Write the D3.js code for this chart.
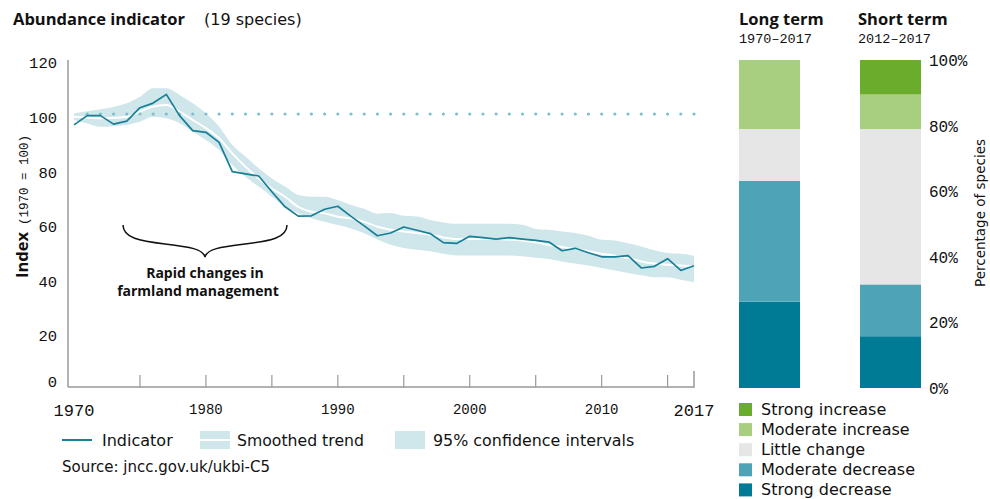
<!DOCTYPE html>
<html><head><meta charset="utf-8">
<script src="https://cdn.jsdelivr.net/npm/d3@7"></script>
<style>
body{margin:0;background:#fff;}
svg{display:block;}
text{font-family:"Open Sans",sans-serif;fill:#111;}
.mono{font-family:"Liberation Mono",monospace;}
.reg{font-family:"DejaVu Sans",sans-serif;}
</style></head><body>
<svg id="c" width="990" height="499"></svg>
<script>
const years = [1970,1971,1972,1973,1974,1975,1976,1977,1978,1979,1980,1981,1982,1983,1984,1985,1986,1987,1988,1989,1990,1991,1992,1993,1994,1995,1996,1997,1998,1999,2000,2001,2002,2003,2004,2005,2006,2007,2008,2009,2010,2011,2012,2013,2014,2015,2016,2017];
const indicator = [96.0,99.4,99.4,96.3,97.4,102.3,104.0,107.2,99.4,93.9,93.3,89.6,78.9,78.1,77.3,71.5,66.0,62.6,62.7,65.1,66.2,62.5,59.0,55.4,56.4,58.6,57.4,56.2,52.9,52.6,55.2,54.7,54.2,54.7,54.2,53.7,53.1,49.9,50.8,49.2,47.7,47.7,48.1,43.6,44.2,47.0,42.7,44.4];
const smoothed = [99.0,98.7,98.4,98.6,99.0,100.9,102.7,103.3,100.9,97.8,94.8,91.1,85.6,80.7,76.4,72.7,69.7,66.0,64.2,63.6,62.4,61.8,60.5,58.7,57.6,57.0,56.4,55.8,54.8,54.2,54.2,54.2,54.2,54.0,53.7,53.0,52.1,51.3,50.5,49.7,48.8,48.1,47.3,46.0,45.2,44.8,44.5,44.2];
const upperCI = [100.2,101.0,101.7,102.6,103.9,106.3,109.4,109.4,107.0,103.9,100.2,95.4,88.6,84.4,80.1,76.4,73.4,70.3,69.7,69.7,68.5,66.7,65.3,63.5,63.7,62.7,62.5,61.2,60.3,59.8,59.8,59.8,59.8,59.8,59.4,57.9,57.6,57.0,56.4,55.4,53.9,53.7,52.7,51.5,50.1,49.1,48.8,48.1];
const lowerCI = [97.8,96.5,95.3,95.5,96.0,97.2,99.0,98.4,96.6,93.5,90.5,86.8,81.3,77.0,73.4,69.7,66.0,63.6,61.8,60.5,59.3,58.1,56.3,54.0,52.1,50.9,50.3,49.7,48.8,48.2,48.2,48.2,48.2,48.2,47.9,47.3,46.9,46.0,45.2,44.5,43.6,42.7,41.8,40.9,40.2,40.2,39.3,38.4];
const yTicks = [0,20,40,60,80,100,120];
const xTickYears = [1975,1980,1985,1990,1995,2000,2005,2010,2015];
const xLabelsSmall = [1980,1990,2000,2010];
const xLabelsLarge = [1970,2017];
const baseline = 100;

const categories = ["Strong decrease","Moderate decrease","Little change","Moderate increase","Strong increase"];
const catColors = ["#007b96","#4ea3b6","#e6e6e6","#a8cf80","#6aac2b"];
const periods = ["Long term","Short term"];
const periodRanges = ["1970–2017","2012–2017"];
const longTerm = [5,7,3,4,0];
const shortTerm = [3,3,9,2,2];
const pctTicks = [0,0.2,0.4,0.6,0.8,1.0];

const svg = d3.select("#c");
const x = d3.scaleLinear().domain([1970,2017]).range([74,694]);
const y = d3.scaleLinear().domain([0,120]).range([387,59.4]);

// titles
const t = svg.append("text").attr("x",13).attr("y",25).style("font-size","16.5px");
t.append("tspan").style("font-weight","700").text("Abundance indicator");
t.append("tspan").attr("x",204).attr("class","reg").style("font-size","16px").text("(19 species)");

// band
const area = d3.area().x((d,i)=>x(years[i])).y0((d,i)=>y(lowerCI[i])).y1((d,i)=>y(upperCI[i])).curve(d3.curveMonotoneX);
svg.append("path").datum(years).attr("d",area).attr("fill","#cfe6eb");
// smoothed
const sline = d3.line().x((d,i)=>x(years[i])).y(d=>y(d)).curve(d3.curveMonotoneX);
svg.append("path").datum(smoothed).attr("d",sline).attr("fill","none").attr("stroke","#fff").attr("stroke-width",2);
// dotted baseline
svg.append("g").selectAll("circle").data(years.slice(1)).join("circle")
  .attr("cx",d=>x(d)).attr("cy",y(baseline)).attr("r",1.6).attr("fill","#7dbfcc");
// indicator
const iline = d3.line().x((d,i)=>x(years[i])).y(d=>y(d));
svg.append("path").datum(indicator).attr("d",iline).attr("fill","none").attr("stroke","#177f96").attr("stroke-width",1.7).attr("stroke-linejoin","round");

// axes
const axCol = "#999";
svg.append("line").attr("x1",68).attr("x2",68).attr("y1",60).attr("y2",387).attr("stroke",axCol).attr("stroke-width",1.5);
svg.append("line").attr("x1",68).attr("x2",x(2017)).attr("y1",387).attr("y2",387).attr("stroke",axCol).attr("stroke-width",1.5);
svg.append("g").selectAll("line").data(xTickYears).join("line")
  .attr("x1",d=>x(d)).attr("x2",d=>x(d)).attr("y1",375).attr("y2",387).attr("stroke",axCol).attr("stroke-width",1.2);
svg.append("line").attr("x1",x(2017)).attr("x2",x(2017)).attr("y1",371).attr("y2",387.7).attr("stroke",axCol).attr("stroke-width",1.5);

svg.append("g").selectAll("text").data(yTicks).join("text").attr("class","mono")
  .attr("x",57).attr("y",d=>d===0? y(d)-4 : y(d)+5).attr("text-anchor","end").attr("dominant-baseline","central")
  .style("font-size","15.5px").text(d=>d);
svg.append("g").selectAll("text").data(xLabelsSmall).join("text").attr("class","mono")
  .attr("x",d=>x(d)).attr("y",410).attr("text-anchor","middle").attr("dominant-baseline","central")
  .style("font-size","14px").text(d=>d);
svg.append("g").selectAll("text").data(xLabelsLarge).join("text").attr("class","mono")
  .attr("x",d=>x(d)).attr("y",411).attr("text-anchor","middle").attr("dominant-baseline","central")
  .style("font-size","17px").text(d=>d);

// y title
const yt = svg.append("text").attr("transform","translate(28,278) rotate(-90)");
yt.append("tspan").style("font-weight","700").style("font-size","16.5px").text("Index");
yt.append("tspan").attr("dx",7).style("font-size","12.5px").style("font-family","Liberation Mono, monospace").text("(1970 = 100)");

// brace
svg.append("path").attr("d","M123,225 C123,238 140,241 165,244 C190,247 203,249 205,257 C207,249 220,247 245,244 C270,241 287,238 287,225")
  .attr("fill","none").attr("stroke","#111").attr("stroke-width",1.5);
svg.append("text").attr("x",205).attr("y",272).attr("text-anchor","middle").attr("dominant-baseline","central")
  .style("font-weight","700").style("font-size","14px").text("Rapid changes in");
svg.append("text").attr("x",198).attr("y",290).attr("text-anchor","middle").attr("dominant-baseline","central")
  .style("font-weight","700").style("font-size","14px").text("farmland management");

// line legend
const ly = 440;
svg.append("line").attr("x1",62).attr("x2",92).attr("y1",ly).attr("y2",ly).attr("stroke","#177f96").attr("stroke-width",2);
svg.append("text").attr("class","reg").attr("x",102).attr("y",ly).attr("dominant-baseline","central").style("font-size","16px").text("Indicator");
svg.append("rect").attr("x",200).attr("y",ly-9).attr("width",30).attr("height",18).attr("fill","#cfe6eb");
svg.append("line").attr("x1",200).attr("x2",230).attr("y1",ly).attr("y2",ly).attr("stroke","#fff").attr("stroke-width",2);
svg.append("text").attr("class","reg").attr("x",237).attr("y",ly).attr("dominant-baseline","central").style("font-size","15.7px").text("Smoothed trend");
svg.append("rect").attr("x",395).attr("y",ly-9).attr("width",30).attr("height",18).attr("fill","#cfe6eb");
svg.append("text").attr("class","reg").attr("x",433).attr("y",ly).attr("dominant-baseline","central").style("font-size","15.9px").text("95% confidence intervals");
svg.append("text").attr("class","reg").attr("x",62).attr("y",467).attr("dominant-baseline","central").style("font-size","15px").text("Source: jncc.gov.uk/ukbi-C5");

// stacked bars
const py = d3.scaleLinear().domain([0,1]).range([388,60]);
const bx = d3.scaleOrdinal().domain(periods).range([739,860]);
const bw = 61;
[longTerm,shortTerm].forEach((counts,pi)=>{
  const total = d3.sum(counts);
  let cum = 0;
  const segs = counts.map((c,ci)=>{const s={y0:cum/total,y1:(cum+c)/total,ci}; cum+=c; return s;});
  svg.append("g").selectAll("rect").data(segs.filter(s=>s.y1>s.y0)).join("rect")
    .attr("x",bx(periods[pi])).attr("width",bw)
    .attr("y",d=>py(d.y1)).attr("height",d=>py(d.y0)-py(d.y1))
    .attr("fill",d=>catColors[d.ci]);
  const hx = bx(periods[pi]) - (pi===1?2:0);
  svg.append("text").attr("x",hx).attr("y",25).style("font-weight","700").style("font-size","16.5px").text(periods[pi]);
  svg.append("text").attr("class","mono").attr("x",hx).attr("y",43).style("font-size","13.5px").text(periodRanges[pi]);
});
svg.append("g").selectAll("text").data(pctTicks).join("text").attr("class","mono")
  .attr("x",929).attr("y",d=>py(d)+2).attr("dominant-baseline","central").style("font-size","16px")
  .text(d=>Math.round(d*100)+"%");
svg.append("text").attr("class","reg").attr("transform","translate(985,213) rotate(-90)").attr("text-anchor","middle")
  .style("font-size","13.5px").text("Percentage of species");

// category legend
const legendOrder = categories.slice().reverse();
const lg = svg.append("g").selectAll("g").data(legendOrder).join("g")
  .attr("transform",(d,i)=>`translate(739,${409.5+i*20.1})`);
lg.append("rect").attr("x",0).attr("y",-6.5).attr("width",13).attr("height",13).attr("fill",d=>catColors[categories.indexOf(d)]);
lg.append("text").attr("class","reg").attr("x",22).attr("y",0).attr("dominant-baseline","central").style("font-size","16px").text(d=>d);
</script>
</body></html>
